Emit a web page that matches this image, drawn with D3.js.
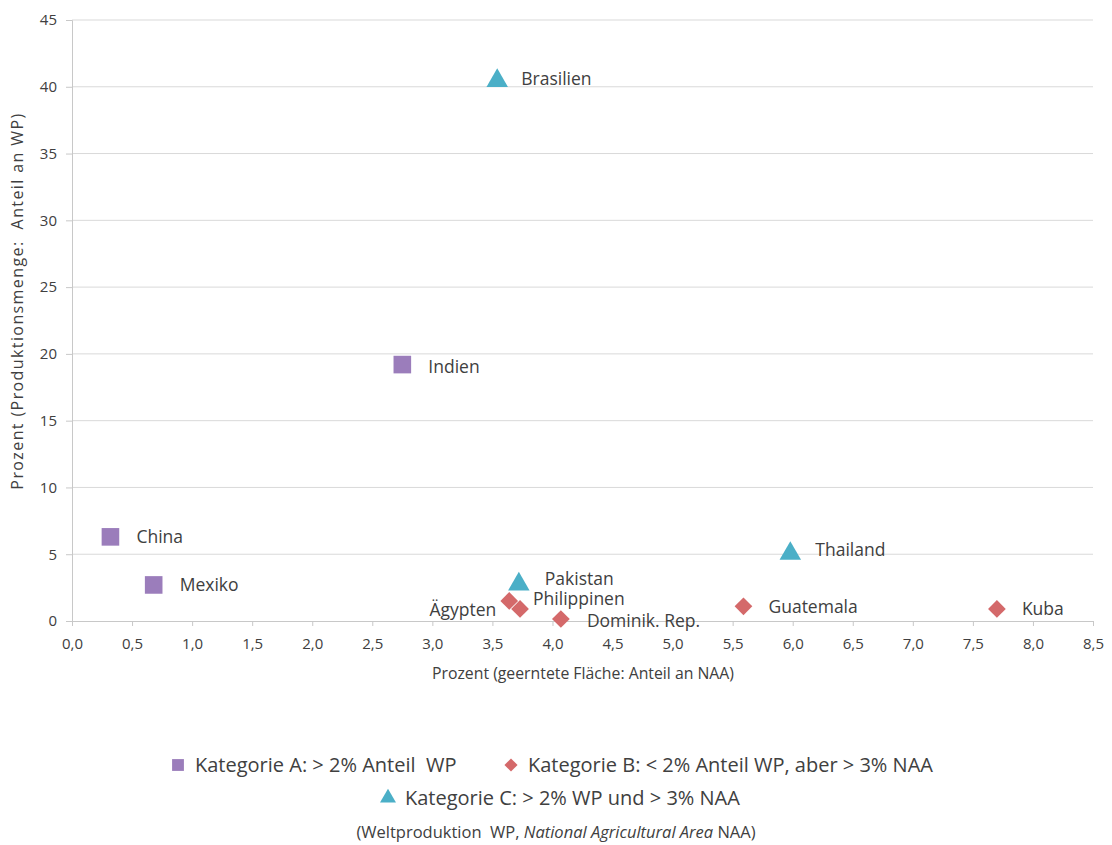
<!DOCTYPE html>
<html><head><meta charset="utf-8">
<script src="https://cdn.jsdelivr.net/npm/d3@7"></script>
<style>
body{margin:0;background:#fff;}
text{font-family:"Open Sans",sans-serif;fill:#404040;white-space:pre;}
</style></head>
<body><svg id="c" width="1112" height="845"></svg>
<script>
const countries = ["Brasilien","Indien","China","Mexiko","Thailand","Pakistan","Philippinen","Ägypten","Dominik. Rep.","Guatemala","Kuba"];
const naaShare  = [3.54, 2.75, 0.32, 0.68, 5.98, 3.72, 3.73, 3.64, 4.07, 5.59, 7.70];
const wpShare   = [40.6, 19.2, 6.3, 2.7, 5.2, 2.9, 0.9, 1.5, 0.15, 1.1, 0.9];
const category  = ["C","A","A","A","C","C","B","B","B","B","B"];
const categories = ["A","B","C"];
const legendLabels = ["Kategorie A: > 2% Anteil  WP","Kategorie B: < 2% Anteil WP, aber > 3% NAA","Kategorie C: > 2% WP und > 3% NAA"];
const xTicks = d3.range(0, 8.51, 0.5);
const yTicks = d3.range(0, 45.1, 5);
const xTitle = "Prozent (geerntete Fläche: Anteil an NAA)";
const yTitle = "Prozent (Produktionsmenge:  Anteil an WP)";

// label placement (style)
const labelPlace = {
 "Brasilien":[24,0,"start"],"Indien":[26,2,"start"],"China":[26,0,"start"],"Mexiko":[26,0,"start"],
 "Thailand":[25,-2,"start"],"Pakistan":[26,-3,"start"],"Philippinen":[13,-10,"start"],
 "Ägypten":[-13,9,"end"],"Dominik. Rep.":[26,2,"start"],"Guatemala":[25,1,"start"],"Kuba":[25,0,"start"]};

const colors = {A:"#9b7dbb", B:"#d4696a", C:"#4bafc7"};
const symbols = {A:d3.symbolSquare, B:d3.symbolDiamond2, C:d3.symbolTriangle};
const sizes = {A:310, B:200, C:200};

const svg = d3.select("#c");
const x = d3.scaleLinear().domain([0,8.5]).range([72,1093]);
const y = d3.scaleLinear().domain([0,45]).range([621,20]);

// gridlines
svg.append("g").selectAll("line").data(yTicks.filter(d=>d>0)).join("line")
  .attr("x1",x(0)).attr("x2",x(8.5)).attr("y1",d=>y(d)).attr("y2",d=>y(d))
  .attr("stroke","#d9d9d9").attr("stroke-width",1);

// axes
const xAxis = svg.append("g").attr("transform",`translate(0,${y(0)})`)
  .call(d3.axisBottom(x).tickValues(xTicks).tickSize(5).tickPadding(12)
    .tickFormat(d=>d3.format(".1f")(d).replace(".",",")));
const yAxis = svg.append("g").attr("transform",`translate(${x(0)},0)`)
  .call(d3.axisLeft(y).tickValues(yTicks).tickSize(6).tickPadding(9).tickFormat(d3.format("d")));
[xAxis,yAxis].forEach(g=>{
  g.select(".domain").attr("stroke","#c8c8c8");
  g.selectAll(".tick line").attr("stroke","#c8c8c8");
  g.selectAll(".tick text").attr("fill","#404040").style("font-size","15px").style("font-family","'Open Sans',sans-serif");
});

// titles
svg.append("text").attr("x",583).attr("y",679).attr("text-anchor","middle").style("font-size","15.8px").text(xTitle);
svg.append("text").attr("transform",`translate(23,301) rotate(-90)`).attr("text-anchor","middle")
  .style("font-size","16px").style("letter-spacing","1.4px").text(yTitle);

// points
const data = countries.map((c,i)=>({c, x:naaShare[i], y:wpShare[i], cat:category[i]}));
svg.append("g").selectAll("path").data(data).join("path")
  .attr("transform",d=>`translate(${x(d.x)},${y(d.y) + (d.cat==="C"?2:0)})`)
  .attr("d",d=>d3.symbol().type(symbols[d.cat]).size(sizes[d.cat])())
  .attr("fill",d=>colors[d.cat]);

svg.append("g").selectAll("text").data(data).join("text")
  .attr("x",d=>x(d.x)+labelPlace[d.c][0]).attr("y",d=>y(d.y)+labelPlace[d.c][1])
  .attr("dy","0.35em").attr("text-anchor",d=>labelPlace[d.c][2])
  .style("font-size","17.5px").text(d=>d.c);

// legend
const legPos = [[178,765],[511,765],[388,798]];
categories.forEach((k,i)=>{
  const [lx,ly]=legPos[i];
  svg.append("path").attr("transform",`translate(${lx},${ly})`)
    .attr("d",d3.symbol().type(symbols[k]).size(k==="A"?140:110)())
    .attr("fill",colors[k]);
  svg.append("text").attr("x",lx+17).attr("y",ly).attr("dy","0.35em")
    .style("font-size","20px").text(legendLabels[i]);
});
const fn = svg.append("text").attr("x",556).attr("y",838).attr("text-anchor","middle").style("font-size","16.5px");
fn.append("tspan").text("(Weltproduktion  WP, ");
fn.append("tspan").style("font-style","italic").text("National Agricultural Area");
fn.append("tspan").text(" NAA)");
</script></body></html>
